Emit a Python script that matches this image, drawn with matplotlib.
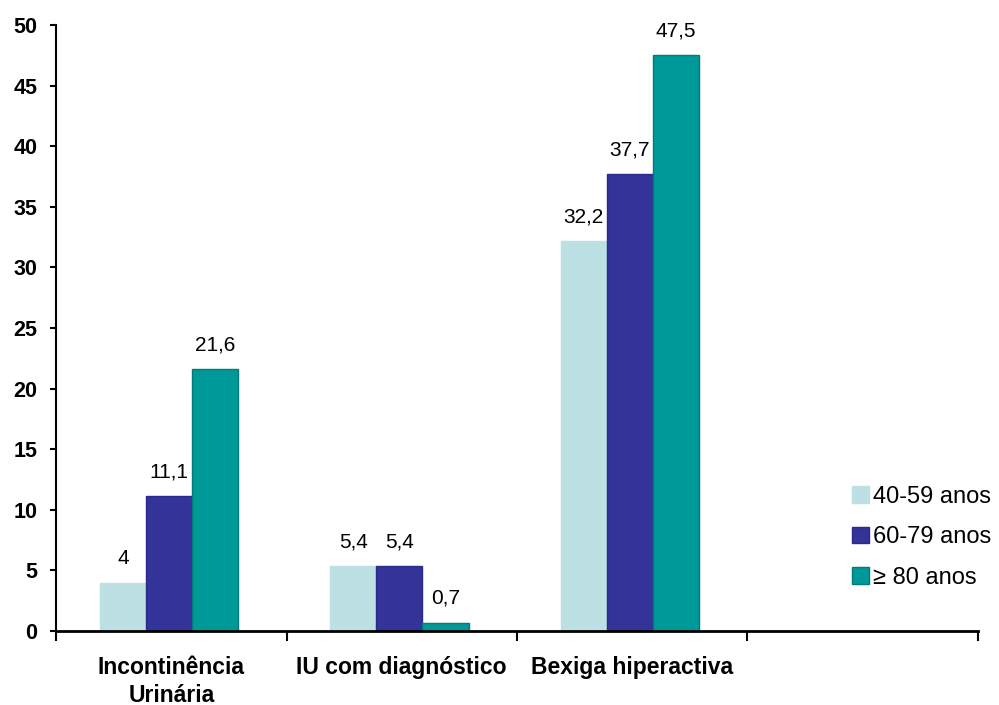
import numpy as np
import matplotlib.pyplot as plt

plt.rcParams['font.family'] = ['Liberation Sans', 'DejaVu Sans']

categories = ['Incontinência\nUrinária', 'IU com diagnóstico', 'Bexiga hiperactiva', '']
series = ['40-59 anos', '60-79 anos', '≥ 80 anos']
values = [
    [4, 5.4, 32.2],
    [11.1, 5.4, 37.7],
    [21.6, 0.7, 47.5],
]
labels = [
    ['4', '5,4', '32,2'],
    ['11,1', '5,4', '37,7'],
    ['21,6', '0,7', '47,5'],
]
colors = ['#bce0e3', '#333399', '#009999']
edges = ['#bce0e3', '#2a2a88', '#007a7a']

fig = plt.figure(figsize=(9.99, 7.05), dpi=100)
ax = fig.add_axes([56 / 999, 1 - 631 / 705, 922 / 999, 606 / 705])

width = 0.2
x = np.arange(3)
handles = []
for i, (vals, name) in enumerate(zip(values, series)):
    pos = x + (i - 1) * width - 0.01
    b = ax.bar(pos, vals, width, color=colors[i], edgecolor=edges[i],
               linewidth=1, label=name, zorder=2)
    handles.append(b)
    for xp, v, t in zip(pos, vals, labels[i]):
        ax.text(xp, v + 1.2, t, ha='center', va='bottom', fontsize=15)

ax.set_xlim(-0.5, 3.5)
ax.set_ylim(0, 50)
ax.set_yticks(np.arange(0, 51, 5))
ax.tick_params(axis='y', labelsize=15.5, width=1.5, length=4.5, pad=9,
               direction='out')
for t in ax.get_yticklabels():
    t.set_fontweight('bold')

# boundaries between categories get the tick marks, names sit in between
ax.set_xticks(np.arange(-0.5, 3.6, 1))
ax.set_xticklabels([])
ax.tick_params(axis='x', which='major', width=1.5, length=7, direction='out')
ax.set_xticks(np.arange(4), minor=True)
ax.set_xticklabels(categories, minor=True, fontsize=16.5, fontweight='bold',
                   linespacing=1.25)
ax.tick_params(axis='x', which='minor', length=0, pad=18)

for s in ['top', 'right']:
    ax.spines[s].set_visible(False)
ax.spines['left'].set_linewidth(1.5)
ax.spines['bottom'].set_linewidth(2)

fig.legend(handles=handles, loc='upper left', bbox_to_anchor=(852 / 999, 1 - 486 / 705),
           frameon=False, fontsize=17, handlelength=0.7, handleheight=0.7,
           handletextpad=0.2, labelspacing=0.78, borderpad=0, borderaxespad=0)

fig.savefig('out.png', dpi=100)
